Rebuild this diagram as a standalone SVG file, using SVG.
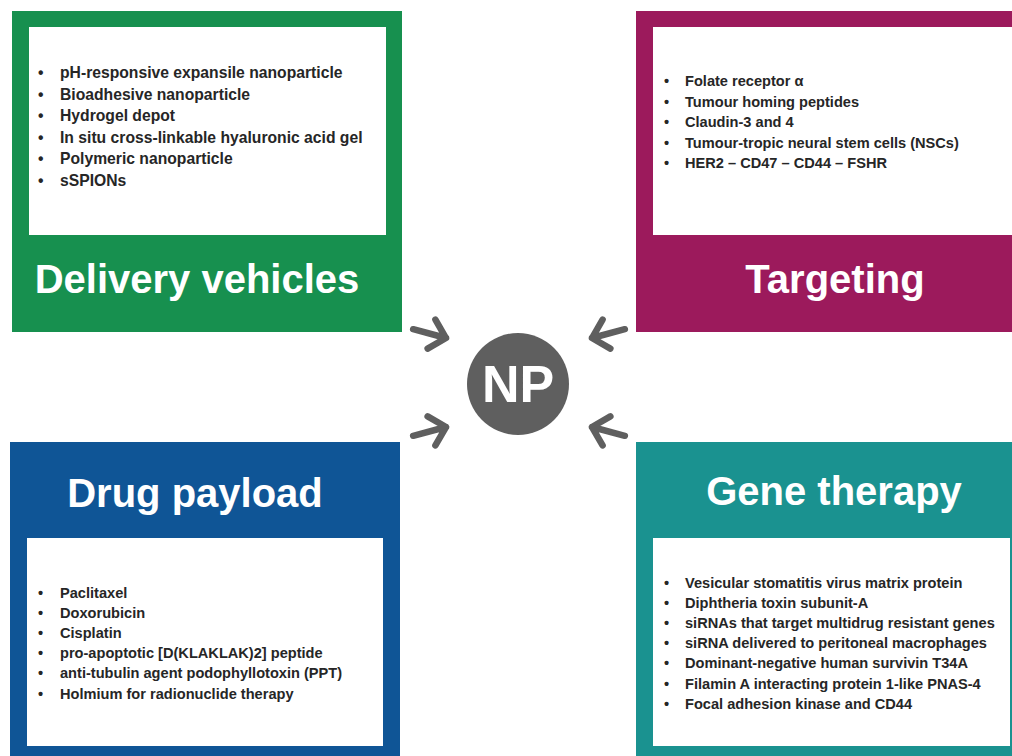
<svg xmlns="http://www.w3.org/2000/svg" width="1012" height="756" viewBox="0 0 1012 756">
<style>
.title{font-family:"Liberation Sans",Arial,sans-serif;font-weight:bold;font-size:40px;fill:#ffffff}
.item{font-family:"Liberation Sans",Arial,sans-serif;font-weight:bold;font-size:14.6px;fill:#262626}
.big{font-size:15.7px}
.inner{fill:#ffffff}
.arrow{fill:none;stroke:#5f5f5f;stroke-width:6.5;stroke-linecap:round;stroke-linejoin:round}
</style>
<defs>
<path id="arr" d="M-34,0 L0,0 M-15,-15 L0,0 L-15,15"/>
</defs>
<rect width="1012" height="756" fill="#ffffff"/>
<g id="delivery">
<rect x="12" y="11" width="390" height="321" fill="#17904f"/>
<rect class="inner" x="29" y="27" width="357" height="208"/>
<text class="item big" y="78"><tspan x="38">•</tspan><tspan x="60">pH-responsive expansile nanoparticle</tspan></text>
<text class="item big" y="99.5"><tspan x="38">•</tspan><tspan x="60">Bioadhesive nanoparticle</tspan></text>
<text class="item big" y="121"><tspan x="38">•</tspan><tspan x="60">Hydrogel depot</tspan></text>
<text class="item big" y="142.5"><tspan x="38">•</tspan><tspan x="60">In situ cross-linkable hyaluronic acid gel</tspan></text>
<text class="item big" y="164"><tspan x="38">•</tspan><tspan x="60">Polymeric nanoparticle</tspan></text>
<text class="item big" y="185.5"><tspan x="38">•</tspan><tspan x="60">sSPIONs</tspan></text>
<text class="title" x="197" y="293" text-anchor="middle">Delivery vehicles</text>
</g>
<g id="targeting">
<rect x="636" y="11" width="376" height="321" fill="#9c1a5c"/>
<rect class="inner" x="653" y="27" width="359" height="208"/>
<text class="item" y="86"><tspan x="664">•</tspan><tspan x="685">Folate receptor α</tspan></text>
<text class="item" y="106.6"><tspan x="664">•</tspan><tspan x="685">Tumour homing peptides</tspan></text>
<text class="item" y="127.2"><tspan x="664">•</tspan><tspan x="685">Claudin-3 and 4</tspan></text>
<text class="item" y="147.8"><tspan x="664">•</tspan><tspan x="685">Tumour-tropic neural stem cells (NSCs)</tspan></text>
<text class="item" y="168.4"><tspan x="664">•</tspan><tspan x="685">HER2 – CD47 – CD44 – FSHR</tspan></text>
<text class="title" x="835" y="293" text-anchor="middle">Targeting</text>
</g>
<g id="drug">
<rect x="10" y="442" width="390" height="314" fill="#0f5596"/>
<rect class="inner" x="27" y="538" width="356" height="208"/>
<text class="title" x="195" y="507" text-anchor="middle">Drug payload</text>
<text class="item" y="598"><tspan x="38">•</tspan><tspan x="60">Paclitaxel</tspan></text>
<text class="item" y="618.1"><tspan x="38">•</tspan><tspan x="60">Doxorubicin</tspan></text>
<text class="item" y="638.2"><tspan x="38">•</tspan><tspan x="60">Cisplatin</tspan></text>
<text class="item" y="658.3"><tspan x="38">•</tspan><tspan x="60">pro-apoptotic [D(KLAKLAK)2] peptide</tspan></text>
<text class="item" y="678.4"><tspan x="38">•</tspan><tspan x="60">anti-tubulin agent podophyllotoxin (PPT)</tspan></text>
<text class="item" y="698.5"><tspan x="38">•</tspan><tspan x="60">Holmium for radionuclide therapy</tspan></text>
</g>
<g id="gene">
<rect x="636" y="442" width="376" height="314" fill="#1a9290"/>
<rect class="inner" x="653" y="538" width="357" height="208"/>
<text class="title" x="834" y="505" text-anchor="middle">Gene therapy</text>
<text class="item" y="588"><tspan x="664">•</tspan><tspan x="685">Vesicular stomatitis virus matrix protein</tspan></text>
<text class="item" y="608.1"><tspan x="664">•</tspan><tspan x="685">Diphtheria toxin subunit-A</tspan></text>
<text class="item" y="628.2"><tspan x="664">•</tspan><tspan x="685">siRNAs that target multidrug resistant genes</tspan></text>
<text class="item" y="648.3"><tspan x="664">•</tspan><tspan x="685">siRNA delivered to peritoneal macrophages</tspan></text>
<text class="item" y="668.4"><tspan x="664">•</tspan><tspan x="685">Dominant-negative human survivin T34A</tspan></text>
<text class="item" y="688.5"><tspan x="664">•</tspan><tspan x="685">Filamin A interacting protein 1-like PNAS-4</tspan></text>
<text class="item" y="708.6"><tspan x="664">•</tspan><tspan x="685">Focal adhesion kinase and CD44</tspan></text>
</g>
<g id="np">
<circle cx="518" cy="384" r="51" fill="#5f5f5f"/>
<text x="518" y="402" text-anchor="middle" font-family="Liberation Sans, Arial, sans-serif" font-weight="bold" font-size="52" fill="#ffffff">NP</text>
</g>
<g id="connectors">
<use href="#arr" class="arrow" transform="translate(446,338) rotate(15)"/>
<use href="#arr" class="arrow" transform="translate(446,427) rotate(-15)"/>
<use href="#arr" class="arrow" transform="translate(592,338) rotate(165)"/>
<use href="#arr" class="arrow" transform="translate(592,427) rotate(195)"/>
</g>
</svg>
